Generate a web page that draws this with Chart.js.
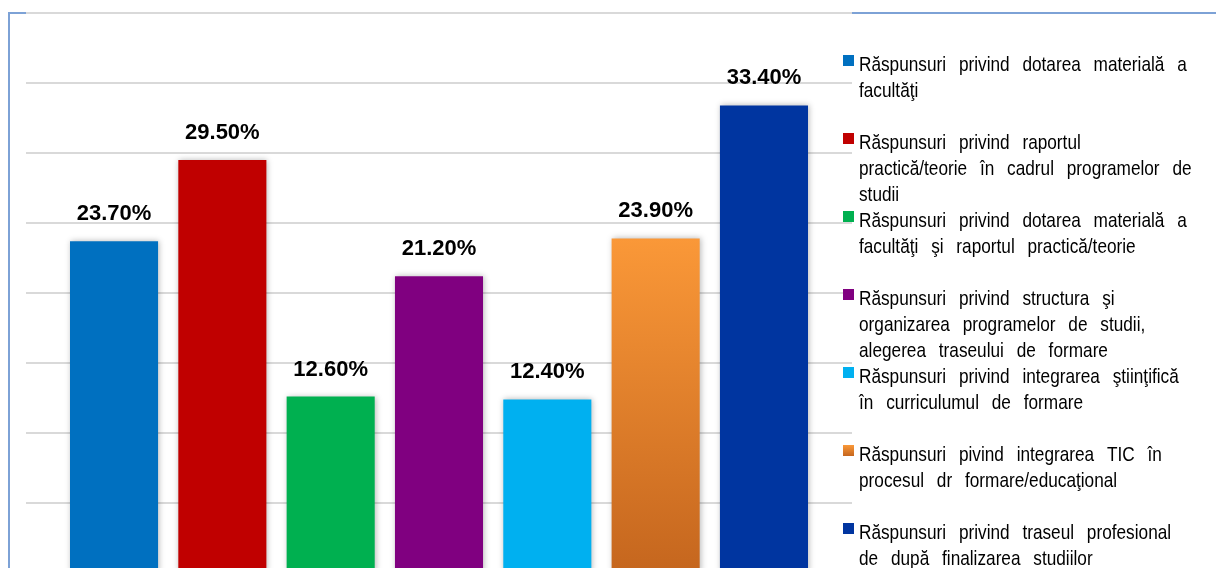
<!DOCTYPE html>
<html><head><meta charset="utf-8">
<script src="https://cdn.jsdelivr.net/npm/chart.js@4.4.1/dist/chart.umd.min.js"></script>
<style>
html,body{margin:0;padding:0;background:#fff;overflow:hidden;width:1216px;height:568px}
#wrap{position:absolute;left:0;top:0;width:1216px;height:590px}
canvas{display:block}
</style></head><body><div id="wrap"><canvas id="c" width="1216" height="590"></canvas></div>
<script>
const categories = [''];
const seriesNames = [
  'Răspunsuri privind dotarea materială a facultăţi',
  'Răspunsuri privind raportul practică/teorie în cadrul programelor de studii',
  'Răspunsuri privind dotarea materială a facultăţi şi raportul practică/teorie',
  'Răspunsuri privind structura şi organizarea programelor de studii, alegerea traseului de formare',
  'Răspunsuri privind integrarea ştiinţifică în curriculumul de formare',
  'Răspunsuri pivind integrarea TIC în procesul dr formare/educaţional',
  'Răspunsuri privind traseul profesional de după finalizarea studiilor'
];
const legendLines = [
  ['Răspunsuri privind dotarea materială a', 'facultăţi'],
  ['Răspunsuri privind raportul', 'practică/teorie în cadrul programelor de', 'studii'],
  ['Răspunsuri privind dotarea materială a', 'facultăţi şi raportul practică/teorie'],
  ['Răspunsuri privind structura şi', 'organizarea programelor de studii,', 'alegerea traseului de formare'],
  ['Răspunsuri privind integrarea ştiinţifică', 'în curriculumul de formare'],
  ['Răspunsuri pivind integrarea TIC în', 'procesul dr formare/educaţional'],
  ['Răspunsuri privind traseul profesional', 'de după finalizarea studiilor']
];
const values = [23.7, 29.5, 12.6, 21.2, 12.4, 23.9, 33.4];
const valueLabels = ['23.70%', '29.50%', '12.60%', '21.20%', '12.40%', '23.90%', '33.40%'];
const colors = ['#0070c0', '#c00000', '#00b050', '#800080', '#00b0f0', '#f39035', '#0035a0'];
const yTicks = [0, 5, 10, 15, 20, 25, 30, 35, 40];

function orangeGradient(c, y0, y1) {
  const g = c.createLinearGradient(0, y0, 0, y1);
  g.addColorStop(0, '#fa9838');
  g.addColorStop(1, '#c5661e');
  return g;
}

const datasets = values.map((v, i) => ({
  label: seriesNames[i],
  data: [v],
  backgroundColor: i === 5 ? (ctx) => {
    const chart = ctx.chart;
    if (!chart.chartArea) return colors[i];
    const ys = chart.scales.y;
    return orangeGradient(chart.ctx, ys.getPixelForValue(v), ys.getPixelForValue(0));
  } : colors[i],
  borderWidth: 0,
  categoryPercentage: 0.918,
  barPercentage: 0.813
}));

const framePlugin = {
  id: 'frame',
  beforeDraw(chart) {
    const c = chart.ctx;
    c.save();
    c.strokeStyle = '#7da2d6';
    c.lineWidth = 2;
    c.beginPath();
    c.moveTo(9, 600);
    c.lineTo(9, 13);
    c.lineTo(1216, 13);
    c.stroke();
    c.restore();
  }
};

const shadowPlugin = {
  id: 'barShadow',
  beforeDatasetsDraw(chart) {
    const c = chart.ctx;
    c.save();
    c.shadowColor = 'rgba(0,0,0,0.28)';
    c.shadowBlur = 6;
    c.shadowOffsetX = 1;
    c.shadowOffsetY = 0;
  },
  afterDatasetsDraw(chart) {
    const c = chart.ctx;
    c.restore();
    c.save();
    c.fillStyle = '#000';
    c.font = 'bold 22px "Liberation Sans", Arial, sans-serif';
    c.textAlign = 'center';
    c.textBaseline = 'alphabetic';
    chart.data.datasets.forEach((ds, i) => {
      const el = chart.getDatasetMeta(i).data[0];
      c.fillText(valueLabels[i], el.x, el.y - 21);
    });
    c.restore();
  }
};

const legendPlugin = {
  id: 'sideLegend',
  afterDraw(chart) {
    const c = chart.ctx;
    const sx = 0.82;
    const textX = 859, boxX = 843, box = 11;
    const firstBase = 71, itemStep = 78, lineStep = 26, extraGap = 8;
    c.save();
    c.font = '21px "Liberation Sans", Arial, sans-serif';
    c.textBaseline = 'alphabetic';
    c.fillStyle = '#000';
    legendLines.forEach((lines, i) => {
      const base = firstBase + i * itemStep;
      if (i === 5) {
        c.fillStyle = orangeGradient(c, base - 16, base - 16 + box);
      } else {
        c.fillStyle = colors[i];
      }
      c.fillRect(boxX, base - 16, box, box);
      c.fillStyle = '#000';
      lines.forEach((ln, j) => {
        const y = base + j * lineStep;
        let x = textX;
        const words = ln.split(' ');
        words.forEach((w) => {
          c.save();
          c.translate(x, y);
          c.scale(sx, 1);
          c.fillText(w, 0, 0);
          c.restore();
          x += (c.measureText(w).width + c.measureText(' ').width) * sx + extraGap;
        });
      });
    });
    c.restore();
  }
};

new Chart(document.getElementById('c'), {
  type: 'bar',
  data: { labels: categories, datasets },
  options: {
    responsive: false,
    animation: false,
    devicePixelRatio: 1,
    layout: { padding: { left: 26, top: 13, right: 364, bottom: 17 } },
    plugins: { legend: { display: false }, tooltip: { enabled: false } },
    scales: {
      x: {
        display: true,
        grid: { display: false, drawTicks: false },
        border: { display: false },
        ticks: { display: false }
      },
      y: {
        min: 0, max: 40,
        afterBuildTicks(scale) { scale.ticks = yTicks.map(v => ({ value: v })); },
        grid: { color: '#d9d9d9', lineWidth: 2, drawTicks: false },
        border: { display: false },
        ticks: { display: false }
      }
    }
  },
  plugins: [framePlugin, shadowPlugin, legendPlugin]
});
</script>
</body></html>
